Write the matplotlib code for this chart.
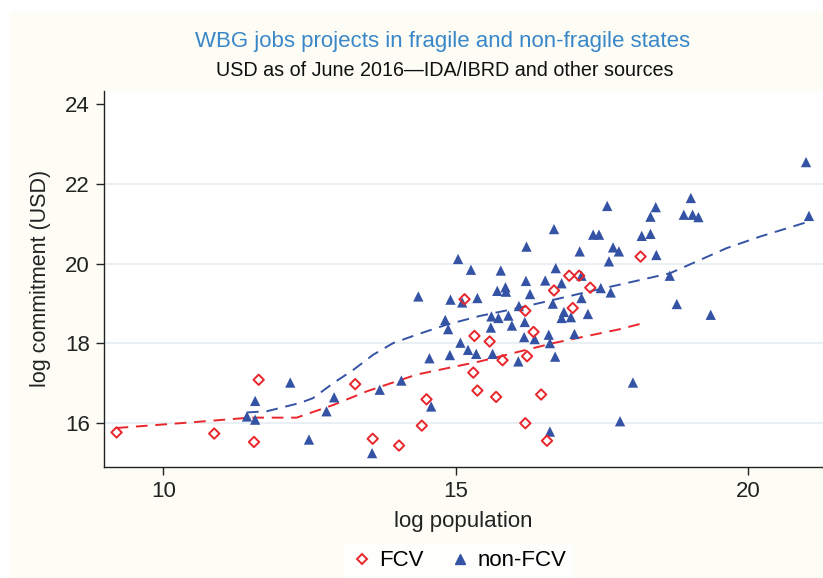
import matplotlib
matplotlib.use('Agg')
import matplotlib.pyplot as plt
from matplotlib.patches import Rectangle
from matplotlib.lines import Line2D

# ---- data ----
fcv_pop = [9.20, 10.87, 11.55, 11.63, 13.28, 13.58, 14.03, 14.42, 14.50, 15.15,
           15.32, 15.30, 15.37, 15.58, 15.80, 15.69, 16.19, 16.33, 16.22, 16.46,
           16.19, 16.56, 16.68, 16.94, 17.11, 17.00, 17.30, 18.16]
fcv_commit = [15.77, 15.74, 15.53, 17.09, 16.98, 15.61, 15.44, 15.94, 16.60, 19.11,
              18.19, 17.27, 16.82, 18.05, 17.58, 16.66, 18.82, 18.29, 17.68, 16.72,
              16.00, 15.56, 19.33, 19.70, 19.70, 18.89, 19.40, 20.18]

non_pop = [11.43, 11.57, 11.57, 12.17, 12.49, 12.79, 12.92, 13.57, 13.70, 14.07,
           14.36, 14.55, 14.58, 14.82, 14.87, 14.91, 15.11, 14.90, 15.08, 15.21,
           15.35, 15.26, 15.37, 15.04, 15.77, 15.71, 15.85, 15.86, 16.21, 16.20,
           16.27, 16.53, 16.68, 16.71, 16.81, 17.12, 17.15, 17.35, 17.45, 17.59,
           17.69, 17.79, 17.62, 17.48, 17.65, 17.15, 16.66, 16.08, 15.61, 15.73,
           15.90, 15.60, 15.96, 16.18, 16.85, 16.81, 16.97, 17.26, 16.59, 16.61,
           16.35, 16.17, 17.03, 15.63, 16.07, 16.70, 18.03, 17.81, 16.61, 18.42,
           18.33, 18.18, 18.33, 18.43, 18.66, 20.99, 21.04, 19.02, 18.90, 19.05,
           19.15, 18.78, 19.36]
non_commit = [16.17, 16.56, 16.09, 17.02, 15.59, 16.30, 16.65, 15.25, 16.84, 17.07,
              19.18, 17.63, 16.42, 18.59, 18.36, 19.10, 19.03, 17.71, 18.02, 17.84,
              17.74, 19.85, 19.14, 20.12, 19.83, 19.32, 19.41, 19.30, 20.43, 19.57,
              19.24, 19.58, 20.87, 19.89, 19.51, 20.31, 19.70, 20.73, 20.73, 21.45,
              20.41, 20.31, 20.06, 19.39, 19.28, 19.14, 19.00, 18.94, 18.68, 18.64,
              18.70, 18.40, 18.45, 18.54, 18.79, 18.64, 18.66, 18.74, 18.22, 18.01,
              18.11, 18.16, 18.24, 17.74, 17.55, 17.67, 17.02, 16.05, 15.79, 21.42,
              21.18, 20.70, 20.75, 20.22, 19.70, 22.55, 21.20, 21.65, 21.23, 21.23,
              21.17, 18.99, 18.72]

# lowess fits as drawn
fcv_fit_x = [9.20, 10.46, 11.48, 12.28, 12.91, 13.48, 14.33, 15.41, 16.67, 17.81, 18.15]
fcv_fit_y = [15.88, 16.02, 16.14, 16.14, 16.46, 16.80, 17.22, 17.55, 18.01, 18.36, 18.49]
non_fit_x = [11.43, 11.77, 12.34, 12.56, 12.91, 13.25, 13.59, 13.93, 14.33, 14.84,
             15.41, 16.10, 17.24, 18.66, 19.63, 20.20, 21.04]
non_fit_y = [16.27, 16.30, 16.51, 16.63, 17.01, 17.34, 17.72, 18.01, 18.22, 18.47,
             18.69, 18.90, 19.29, 19.76, 20.39, 20.68, 21.06]

x_ticks = [10, 15, 20]
y_ticks = [16, 18, 20, 22, 24]
grid_levels = [16, 18, 20, 22]

RED = '#e8262b'
BLUE = '#3453a5'
TITLE_BLUE = '#3a87c8'
CREAM = '#fdfdf6'

plt.rcParams['font.family'] = ['Liberation Sans', 'DejaVu Sans']

fig = plt.figure(figsize=(8.23, 5.78), dpi=100, facecolor='white')
# cream panel behind everything
fig.patches.append(Rectangle((10 / 823, 0), 1, 1 - 12 / 578, transform=fig.transFigure,
                             facecolor=CREAM, edgecolor='none', zorder=-10))

ax = fig.add_axes([0.126, 0.1926, 0.874, 0.6504])
ax.set_facecolor('white')

for g in grid_levels:
    ax.axhline(g, color='#e6eff4', lw=1.3, zorder=0)

ax.plot(non_fit_x, non_fit_y, color=BLUE, lw=1.4, dashes=(6, 4), zorder=2)
ax.plot(fcv_fit_x, fcv_fit_y, color=RED, lw=1.4, dashes=(6, 4), zorder=2)

ax.scatter(non_pop, non_commit, marker='^', s=55, color=BLUE, edgecolors='none', zorder=3)
ax.scatter(fcv_pop, fcv_commit, marker='D', s=28, facecolors='none', edgecolors=RED,
           linewidths=1.4, zorder=4)

ax.set_xlim(8.98, 21.28)
ax.set_ylim(14.91, 24.34)
ax.set_xticks(x_ticks)
ax.set_yticks(y_ticks)
ax.tick_params(axis='both', direction='out', length=6, width=1, labelsize=16,
               colors='#222222', pad=4)
ax.spines['top'].set_visible(False)
ax.spines['right'].set_visible(False)
for s in ('left', 'bottom'):
    ax.spines[s].set_color('#222222')
    ax.spines[s].set_linewidth(1)

ax.set_xlabel('log population', fontsize=16, color='#222222', labelpad=7)
ax.set_ylabel('log commitment (USD)', fontsize=15.5, color='#222222', labelpad=10)

fig.text(0.538, 1 - 42 / 578, 'WBG jobs projects in fragile and non-fragile states',
         ha='center', va='center', fontsize=16, color=TITLE_BLUE)
fig.text(0.540, 1 - 71 / 578, 'USD as of June 2016\u2014IDA/IBRD and other sources',
         ha='center', va='center', fontsize=14.2, color='#111111')

handles = [Line2D([], [], marker='D', ls='none', markersize=5, markerfacecolor='none',
                  markeredgecolor=RED, markeredgewidth=1.4, label='FCV'),
           Line2D([], [], marker='^', ls='none', markersize=7, color=BLUE, label='non-FCV')]
leg = fig.legend(handles=handles, loc='center', bbox_to_anchor=(0.557, 1 - 561 / 578),
                 ncol=2, frameon=True, fontsize=16, handletextpad=0.3, columnspacing=1.1,
                 handlelength=1.0, borderpad=0.3)
leg.get_frame().set_facecolor('white')
leg.get_frame().set_edgecolor('none')
leg.get_frame().set_boxstyle('square', pad=0)

fig.savefig('out.png', dpi=100, facecolor=fig.get_facecolor())
